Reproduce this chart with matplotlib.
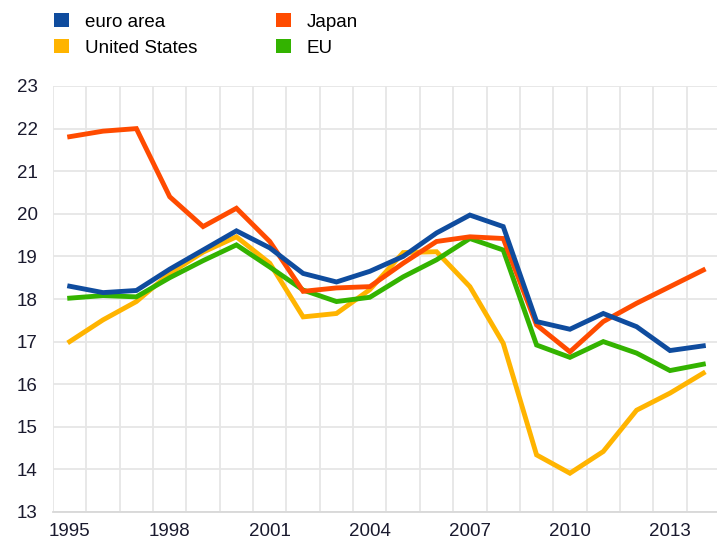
import numpy as np
import matplotlib
matplotlib.use("Agg")
import matplotlib.pyplot as plt
from matplotlib.patches import Patch

plt.rcParams['font.family'] = ['Liberation Sans', 'DejaVu Sans']

# Données
annees = list(range(1995, 2015))
euro_area = [18.3, 18.15, 18.2, 18.7, 19.15, 19.6, 19.2, 18.6, 18.4, 18.65,
             19.0, 19.55, 19.97, 19.7, 17.47, 17.29, 17.66, 17.35, 16.79, 16.9]
japon = [21.81, 21.94, 22.0, 20.4, 19.7, 20.13, 19.35, 18.18, 18.26, 18.29,
         18.84, 19.35, 19.46, 19.42, 17.39, 16.76, 17.47, 17.9, 18.29, 18.68]
etats_unis = [17.0, 17.51, 17.94, 18.6, 19.1, 19.46, 18.84, 17.58, 17.66, 18.22,
              19.09, 19.11, 18.29, 16.96, 14.34, 13.91, 14.42, 15.39, 15.79, 16.26]
ue = [18.02, 18.08, 18.05, 18.5, 18.9, 19.27, 18.75, 18.21, 17.94, 18.04,
      18.52, 18.92, 19.42, 19.15, 16.92, 16.63, 17.0, 16.73, 16.32, 16.47]

ticks_x = [1995, 1998, 2001, 2004, 2007, 2010, 2013]
ticks_y = list(range(13, 24))

couleurs = {
    'euro area': '#0f4c9e',
    'Japan': '#ff4b00',
    'United States': '#ffb400',
    'EU': '#33b300',
}

fig = plt.figure(figsize=(7.17, 5.44), dpi=100)
ax = fig.add_axes([53 / 717, 32 / 544, 667 / 717, 426 / 544])

# Ordre de tracé : US, EU, Japon, zone euro
ax.plot(annees, etats_unis, color=couleurs['United States'], lw=3.5, solid_joinstyle='miter')
ax.plot(annees, ue, color=couleurs['EU'], lw=3.5, solid_joinstyle='miter')
ax.plot(annees, japon, color=couleurs['Japan'], lw=3.5, solid_joinstyle='miter')
ax.plot(annees, euro_area, color=couleurs['euro area'], lw=3.5, solid_joinstyle='miter')

ax.set_xlim(1994.5, 2014.5)
ax.set_ylim(13, 23)
ax.set_xticks(ticks_x)
ax.set_xticks(np.arange(1994.5, 2015, 1), minor=True)
ax.set_yticks(ticks_y)

ax.grid(True, which='minor', axis='x', color='#e6e6e6', lw=1.3)
ax.grid(True, which='major', axis='y', color='#e6e6e6', lw=1.3)
ax.set_axisbelow(True)

for side in ['top', 'right', 'left']:
    ax.spines[side].set_visible(False)
ax.spines['bottom'].set_color('#d8d8d8')
ax.spines['bottom'].set_linewidth(1.3)

ax.tick_params(which='both', length=0)
ax.tick_params(axis='x', pad=8, labelsize=13.5, labelcolor='#1a1a2e')
ax.tick_params(axis='y', pad=11, labelsize=13.5, labelcolor='#1a1a2e')

# Légende
noms = ['euro area', 'United States', 'Japan', 'EU']
handles = [Patch(facecolor=couleurs[n], edgecolor='none') for n in noms]
fig.legend(handles, noms, loc='upper left', bbox_to_anchor=(54 / 717, 1 - 13 / 544),
           ncol=2, frameon=False, fontsize=13.5, borderpad=0, borderaxespad=0,
           handlelength=0.8, handleheight=0.8, handletextpad=0.85,
           labelspacing=0.45, columnspacing=4.2)

fig.savefig('out.png', dpi=100)
